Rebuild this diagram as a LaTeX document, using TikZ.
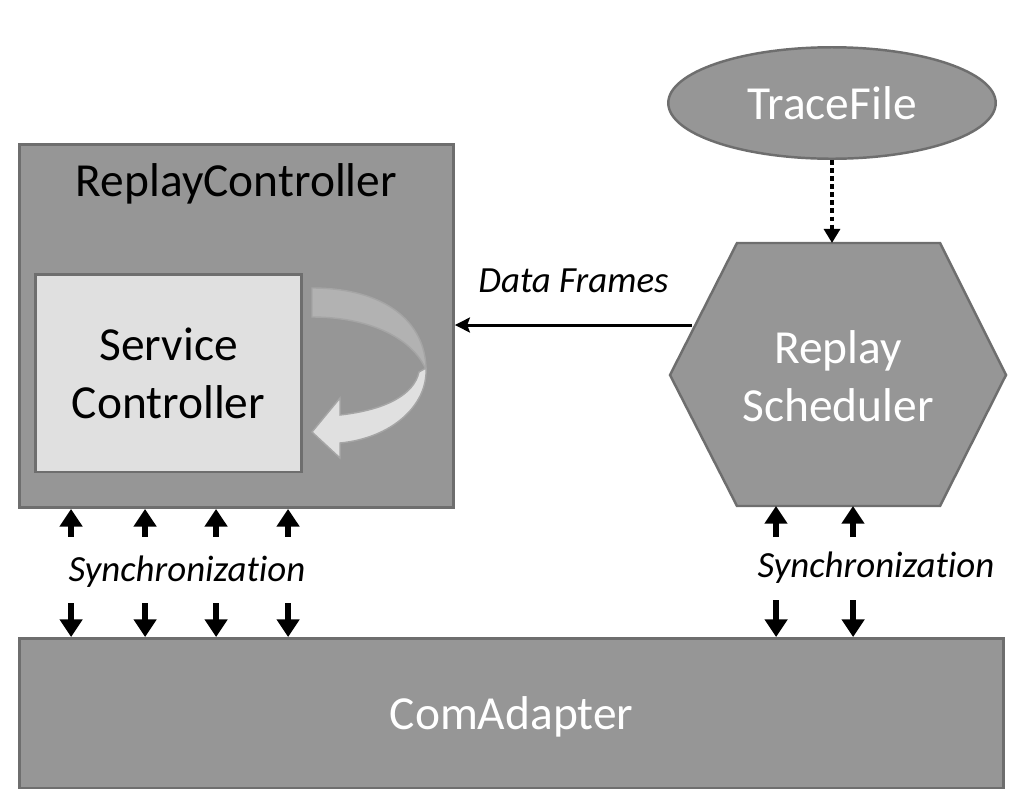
\documentclass[tikz,border=0pt]{standalone}
\usepackage{fontspec}
\setmainfont{Carlito}[Ligatures=NoCommon]
\usepackage{xcolor}
\usetikzlibrary{arrows.meta,positioning,calc,shapes.geometric}

\definecolor{boxgray}{RGB}{150,150,150}
\definecolor{edgegray}{RGB}{110,110,110}
\definecolor{scfill}{RGB}{224,224,224}
\definecolor{backgray}{RGB}{178,178,178}
\definecolor{bandedge}{RGB}{165,165,165}

\begin{document}
\begin{tikzpicture}[>=Stealth, x=0.02cm, y=-0.02cm,
    box/.style={draw=edgegray, line width=1.4pt, fill=boxgray},
    bigtext/.style={font=\fontsize{27}{33}\selectfont},
    smalltext/.style={font=\fontsize{21}{25}\selectfont\itshape},
    sync/.style={-{Triangle[width=12.5pt,length=10pt]}, line width=3.4pt},
    dfarrow/.style={-{Stealth[width=8.5pt,length=8.5pt,inset=1.5pt]}, line width=1.7pt},
    dotarrow/.style={-{Triangle[width=9pt,length=8pt]}, line width=2.8pt, dash pattern=on 2.8pt off 1.8pt}]

    \useasboundingbox (0,0) rectangle (1015,802);

    % Replay controller with service controller inside
    \node[box, minimum width=8.69cm, minimum height=7.27cm] (rc) at (236.5,326) {};
    \node[bigtext] (rctitle) at (236.5,184) {ReplayController};
    \node[box, fill=scfill, minimum width=5.33cm, minimum height=3.95cm, bigtext, align=center] (sc) at (168.5,373) {Service\\Controller};

    % Curved arrow (back and front of the band)
    \draw[draw=bandedge, fill=backgray, line width=0.8pt] (312,288) .. controls (385,288) and (426,322) .. (426,370)
        .. controls (414,340) and (372,317) .. (312,317) -- cycle;
    \draw[draw=bandedge, fill=scfill, line width=0.8pt] (426,368) .. controls (428,405) and (392,438) .. (340,443)
        -- (340,458) -- (312,432) -- (340,398) -- (340,415) .. controls (385,410) and (414,395) .. (419,372) -- cycle;

    % Trace file
    \node[box, ellipse, minimum width=6.55cm, minimum height=2.23cm, inner sep=0pt, bigtext, text=white] (tf) at (832,103) {TraceFile};

    % Replay scheduler hexagon
    \draw[box] (670,375) coordinate (rsw) -- (737,243) coordinate (rsnw) -- (940,243) coordinate (rsne)
        -- (1006,375) coordinate (rse) -- (940,506) coordinate (rsse) -- (737,506) coordinate (rssw) -- cycle;
    \node[bigtext, text=white, align=center] (rs) at (838,376) {Replay\\Scheduler};

    % ComAdapter
    \node[box, minimum width=19.69cm, minimum height=2.99cm, bigtext, text=white, text depth=0pt] (ca) at (511.5,713) {ComAdapter};

    % Trace file feeds the scheduler
    \draw[dotarrow] (tf.south) -- (tf.south |- rsnw);

    % Data frames
    \coordinate (dfstart) at (692,325);
    \draw[dfarrow] (dfstart) -- (rc.east |- dfstart) node[midway, above=14pt, smalltext] (dflabel) {Data Frames};

    % Synchronization, left side
    \foreach \dx in {53,127,198,270} {
        \draw[sync] ($(rc.south west)+(\dx,28)$) -- ($(rc.south west)+(\dx,0)$);
        \draw[sync] ($(ca.north west)+(\dx,-34)$) -- ($(ca.north west)+(\dx,0)$);
    }
    \node[smalltext] (syncl) at (187,572) {Synchronization};

    % Synchronization, right side
    \foreach \dx in {39,116} {
        \draw[sync] ($(rssw)+(\dx,31)$) -- ($(rssw)+(\dx,0)$);
        \draw[sync] ($(ca.north west)+(719+\dx,-37)$) -- ($(ca.north west)+(719+\dx,0)$);
    }
    \node[smalltext] (syncr) at (876,568) {Synchronization};
\end{tikzpicture}
\end{document}
